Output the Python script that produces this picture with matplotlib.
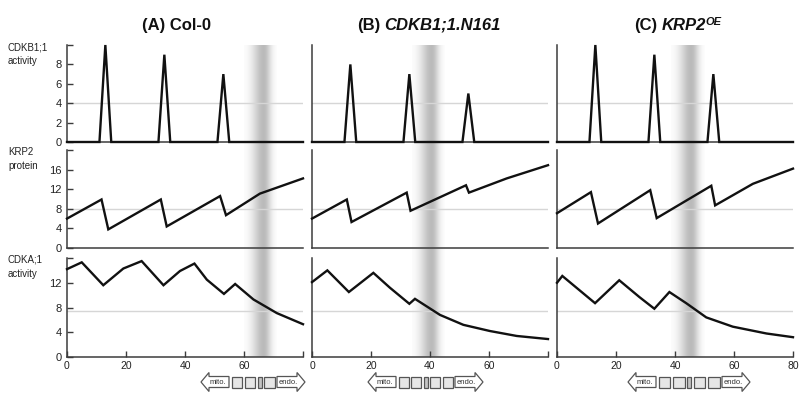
import matplotlib
matplotlib.use('Agg')
import matplotlib.pyplot as plt
import numpy as np
from matplotlib.patches import Polygon, Rectangle

plt.rcParams['font.family'] = ['Liberation Sans', 'DejaVu Sans']

W, H = 801, 400

# ---------------- data ----------------
time_max = 80

# CDKB1;1 activity (triangular pulses)
cdkb_t = [0, 11, 13, 15, 31, 33, 35, 51, 53, 55, 80]
cdkb_A = [0, 0, 10, 0, 0, 9, 0, 0, 7, 0, 0]
cdkb_B = [0, 0, 8, 0, 0, 7, 0, 0, 5, 0, 0]
cdkb_C = [0, 0, 10, 0, 0, 9, 0, 0, 7, 0, 0]

# KRP2 protein
krp_t_A = [0, 11.7, 14.0, 31.8, 33.8, 51.9, 53.9, 65.4, 80]
krp_A = [6.0, 9.9, 3.8, 9.9, 4.4, 10.6, 6.7, 11.1, 14.2]
krp_t_B = [0, 11.8, 13.4, 32.1, 33.4, 52.2, 53.2, 66.0, 80]
krp_B = [6.0, 9.9, 5.3, 11.3, 7.6, 12.8, 11.3, 14.2, 16.9]
krp_t_C = [0, 11.5, 13.9, 31.6, 33.8, 52.3, 53.6, 66.4, 80]
krp_C = [7.1, 11.4, 5.0, 11.8, 6.1, 12.7, 8.7, 13.1, 16.2]

# CDKA;1 activity
cdka_t_A = [0, 5.0, 12.3, 19.1, 25.3, 32.7, 38.3, 43.2, 47.4, 53.2, 57.0, 63.2, 71.1, 80]
cdka_A = [14.2, 15.3, 11.6, 14.3, 15.5, 11.6, 13.9, 15.1, 12.5, 10.2, 11.8, 9.3, 7.1, 5.3]
cdka_t_B = [0, 5.2, 12.5, 20.8, 26.4, 33.0, 34.9, 43.4, 51.3, 60.3, 69.4, 80]
cdka_B = [12.1, 14.0, 10.5, 13.6, 11.2, 8.6, 9.4, 6.8, 5.2, 4.2, 3.4, 2.9]
cdka_t_C = [0, 1.8, 12.9, 21.1, 27.9, 33.0, 38.1, 43.8, 50.6, 59.6, 71.0, 80]
cdka_C = [12.0, 13.1, 8.7, 12.4, 9.7, 7.8, 10.5, 8.7, 6.4, 4.9, 3.8, 3.2]

# shaded transition band (start, end) in time units
band_A = (60, 71)
band_B = (34, 45)
band_C = (38.7, 50)

row_labels = [("CDKB1;1", "activity"), ("KRP2", "protein"), ("CDKA;1", "activity")]
row_ylim = [10, 20, 16]
row_yticks = [[0, 2, 4, 6, 8, 10], [0, 4, 8, 12, 16, 20], [0, 4, 8, 12, 16]]
row_ref = [4, 8, 7.5]
x_ticks = [0, 20, 40, 60, 80]

stages_A = ['sq', 'sq', 'narrow', 'sq']
stages_B = ['sq', 'sq', 'narrow', 'sq', 'sq']
stages_C = ['sq', 'sq', 'narrow', 'sq', 'sq']

panels = [
    dict(cdkb=cdkb_A, krp_t=krp_t_A, krp=krp_A, cdka_t=cdka_t_A, cdka=cdka_A, band=band_A,
         stages=stages_A, xlabels=['0', '20', '40', '60', '']),
    dict(cdkb=cdkb_B, krp_t=krp_t_B, krp=krp_B, cdka_t=cdka_t_B, cdka=cdka_B, band=band_B,
         stages=stages_B, xlabels=['0', '20', '40', '60', '']),
    dict(cdkb=cdkb_C, krp_t=krp_t_C, krp=krp_C, cdka_t=cdka_t_C, cdka=cdka_C, band=band_C,
         stages=stages_C, xlabels=['0', '20', '40', '60', '80']),
]

# ---------------- layout (pixels) ----------------
col_left = [67, 312, 557]
col_w = 236
rows_px = [(45, 142), (150, 248), (258, 357)]
arrow_span = [(201, 305), (368, 483), (628, 750)]
arrow_yc = 382
title_xc = [176, 429, 678]

fig = plt.figure(figsize=(W / 100, H / 100), dpi=100)
fig.patch.set_facecolor('white')

def px_rect(x0, ytop, w, ybot):
    return [x0 / W, 1 - ybot / H, w / W, (ybot - ytop) / H]

spine_c = '#3c3c3c'
line_c = '#111111'

# gradient profile for band
u = np.linspace(0, 1, 200)
dark = np.where(u < 0.6, 0.27 * np.exp(-((u - 0.6) / 0.34) ** 2),
                0.27 * np.exp(-((u - 0.6) / 0.22) ** 2))
grad = 1 - dark
grad_img = np.tile(grad, (2, 1))

for ci, p in enumerate(panels):
    x0 = col_left[ci]
    # background band axes
    axb = fig.add_axes(px_rect(x0, rows_px[0][0], col_w, rows_px[2][1]))
    axb.set_zorder(0)
    axb.set_xlim(0, time_max)
    axb.set_ylim(0, 1)
    axb.axis('off')
    b0, b1 = p['band']
    axb.imshow(grad_img, extent=[b0, b1, 0, 1], aspect='auto', cmap='gray',
               vmin=0, vmax=1, interpolation='bilinear')

    series = [(cdkb_t, p['cdkb']), (p['krp_t'], p['krp']), (p['cdka_t'], p['cdka'])]
    for ri in range(3):
        ytop, ybot = rows_px[ri]
        ax = fig.add_axes(px_rect(x0, ytop, col_w, ybot))
        ax.set_zorder(1)
        ax.patch.set_facecolor('none')
        ax.set_xlim(0, time_max)
        ax.set_ylim(0, row_ylim[ri])
        for s in ['top', 'right']:
            ax.spines[s].set_visible(False)
        for s in ['left', 'bottom']:
            ax.spines[s].set_color(spine_c)
            ax.spines[s].set_linewidth(1.1)
        ax.axhline(row_ref[ri], color='#d6d6d6', lw=1.0, zorder=1)
        t, v = series[ri]
        ax.plot(t, v, color=line_c, lw=1.7, zorder=3, clip_on=False,
                solid_joinstyle='miter')
        if ci == 0:
            ax.set_yticks(row_yticks[ri])
            labs = [str(y) for y in row_yticks[ri]]
            labs[-1] = ''
            ax.set_yticklabels(labs)
            ax.tick_params(axis='y', direction='in', length=4, width=1.0,
                           color=spine_c, labelsize=8, pad=4, labelcolor='#222222')
        else:
            ax.set_yticks([])
        if ri == 2:
            ax.set_xticks(x_ticks)
            ax.set_xticklabels(p['xlabels'])
            ax.tick_params(axis='x', direction='in', length=4, width=1.0,
                           color=spine_c, labelsize=7.5, pad=3, labelcolor='#222222')
        else:
            ax.set_xticks([])

# row labels
for ri, (l1, l2) in enumerate(row_labels):
    ytop = rows_px[ri][0]
    fig.text(8 / W, 1 - (ytop + 2) / H, l1, fontsize=7, va='center', ha='left', color='#222222')
    fig.text(8 / W, 1 - (ytop + 16) / H, l2, fontsize=7, va='center', ha='left', color='#222222')

# titles with mixed styles
renderer = fig.canvas.get_renderer()

def rich_text(xc, base_y, parts):
    items = []
    total = 0
    for s, kw, dy, gap in parts:
        t = fig.text(0, 0, s, va='baseline', ha='left', **kw)
        w = t.get_window_extent(renderer).width
        items.append((t, w, dy, gap))
        total += w + gap
    x = xc - total / 2
    for t, w, dy, gap in items:
        t.set_position((x / W, 1 - (base_y - dy) / H))
        x += w + gap

bold = dict(fontsize=12, fontweight='bold', color='#111111')
bolditalic = dict(fontsize=12, fontweight='bold', fontstyle='italic', color='#111111')
sup = dict(fontsize=8, fontweight='bold', fontstyle='italic', color='#111111')

rich_text(title_xc[0], 30, [("(A) Col-0", bold, 0, 0)])
rich_text(title_xc[1], 30, [("(B)", bold, 0, 4), ("CDKB1;1.N161", bolditalic, 0, 0)])
rich_text(title_xc[2], 30, [("(C)", bold, 0, 4), ("KRP2", bolditalic, 0, 0), ("OE", sup, 5, 0)])

# stage arrows overlay (pixel coordinates)
ov = fig.add_axes([0, 0, 1, 1])
ov.set_zorder(5)
ov.patch.set_visible(False)
ov.set_xlim(0, W)
ov.set_ylim(H, 0)
ov.axis('off')

edge = '#555555'
head_w, head_h, body_h, lab_w = 8, 9.5, 5.5, 20
for ci, p in enumerate(panels):
    xa, xb = arrow_span[ci]
    yc = arrow_yc
    left = [(xa, yc), (xa + head_w, yc - head_h), (xa + head_w, yc - body_h),
            (xa + head_w + lab_w, yc - body_h), (xa + head_w + lab_w, yc + body_h),
            (xa + head_w, yc + body_h), (xa + head_w, yc + head_h)]
    right = [(xb, yc), (xb - head_w, yc - head_h), (xb - head_w, yc - body_h),
             (xb - head_w - lab_w, yc - body_h), (xb - head_w - lab_w, yc + body_h),
             (xb - head_w, yc + body_h), (xb - head_w, yc + head_h)]
    for poly in (left, right):
        ov.add_patch(Polygon(poly, closed=True, facecolor='white', edgecolor=edge, lw=0.9))
    ov.text(xa + head_w + lab_w / 2 - 1, yc, 'mito.', fontsize=5.5, ha='center', va='center', color='#333333')
    ov.text(xb - head_w - lab_w / 2 + 1, yc, 'endo.', fontsize=5.5, ha='center', va='center', color='#333333')
    m0 = xa + head_w + lab_w
    m1 = xb - head_w - lab_w
    n = len(p['stages'])
    gap = 2.5
    narrow_w = 4.0
    n_sq = sum(1 for s in p['stages'] if s == 'sq')
    n_nar = n - n_sq
    sq_w = (m1 - m0 - gap * (n + 1) - narrow_w * n_nar) / n_sq
    x = m0 + gap
    for s in p['stages']:
        w = sq_w if s == 'sq' else narrow_w
        fc = '#e6e6e6' if s == 'sq' else '#c4c4c4'
        ov.add_patch(Rectangle((x, yc - body_h), w, 2 * body_h, facecolor=fc,
                               edgecolor=edge, lw=0.9))
        x += w + gap

fig.savefig('out.png', dpi=100, facecolor='white')
